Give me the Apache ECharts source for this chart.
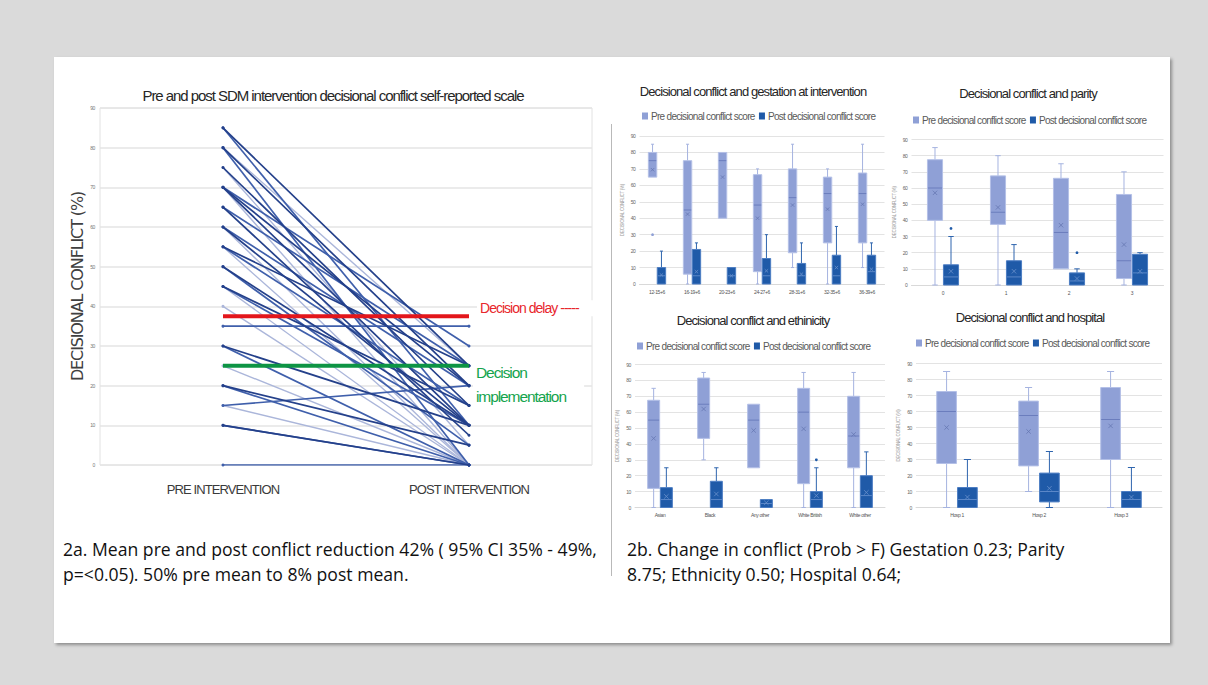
<!DOCTYPE html>
<html>
<head>
<meta charset="utf-8">
<title>Decisional conflict — pre / post SDM intervention</title>
<script src="https://cdn.jsdelivr.net/npm/echarts@6/dist/echarts.min.js"></script>
<style>
html, body { margin: 0; padding: 0; width: 1208px; height: 685px; background: #dadada; overflow: hidden; }
#card { position: absolute; left: 54px; top: 57px; width: 1116px; height: 586px; background: #fff; box-shadow: 2px 2px 3px rgba(0,0,0,0.35); }
#sep { position: absolute; left: 611px; top: 124px; width: 1px; height: 452px; background: #b9b9b9; }
#chart { position: absolute; left: 0; top: 0; width: 1208px; height: 685px; }
/* the source figure was squeezed sideways, so its labels read narrow */
#chart text { letter-spacing: -0.07em; }
.note { position: absolute; font-family: 'Open Sans', 'Noto Sans', sans-serif; font-size: 17.6px; line-height: 25px; color: #111; white-space: nowrap; }
</style>
</head>
<body>
<div id="card"></div>
<div id="sep"></div>
<div id="chart"></div>
<div class="note" style="left:63px; top:537px;">2a. Mean pre and post conflict reduction 42% ( 95% CI 35% - 49%,<br>p=&lt;0.05). 50% pre mean to 8% post mean.</div>
<div class="note" style="left:627px; top:537px;">2b. Change in conflict (Prob &gt; F) Gestation 0.23; Parity<br>8.75; Ethnicity 0.50; Hospital 0.64;</div>
<script>
// ---- 2a: paired pre / post scores (one line per woman) ----
const stageLabels = ['PRE INTERVENTION', 'POST INTERVENTION'];
const preScores  = [85, 85, 80, 80, 80, 75, 75, 70, 70, 70, 70, 65, 65, 60, 60, 60, 55, 55, 55, 50, 50, 45, 45, 45, 40, 35, 30, 30, 25, 20, 20, 15, 15, 10, 10, 0];
const postScores = [25, 10, 20, 25, 0, 15, 5, 30, 20, 10, 0, 25, 7.5, 20, 10, 0, 25, 15, 0, 10, 5, 15, 0, 10, 0, 35, 10, 0, 0, 0, 5, 20, 0, 0, 0, 0];
const lineShade  = [0, 1, 0, 2, 1, 0, 2, 1, 0, 0, 2, 1, 0, 1, 0, 2, 0, 1, 2, 0, 1, 0, 2, 1, 2, 1, 0, 1, 2, 1, 0, 1, 2, 0, 1, 1];
const delayThreshold = 37.5;
const implementThreshold = 25;

// ---- 2b: box stats per category, each [min, q1, median, q3, max, mean] ----
const gestationCats = ['12-15+6', '16-19+6', '20-23+6', '24-27+6', '28-31+6', '32-35+6', '36-39+6'];
const gestationPre = [[65, 65, 75, 80, 85, 69.5], [0, 6, 45, 75, 85, 42.5], [40, 40, 75, 80, 80, 65], [0, 7.5, 48, 66.5, 70, 40], [10, 19, 52.5, 70, 85, 48], [0, 25, 55, 65, 70, 45.5], [10, 25, 55, 67.5, 85, 48.5]];
const gestationPost = [[0, 0, 5, 10, 20, 5.5], [0, 0, 5, 21, 25, 7.5], [0, 0, 5, 10, 10, 5], [0, 0, 5, 15.5, 30, 8], [0, 0, 5, 12.5, 25, 6], [0, 0, 5, 17.5, 35, 10], [0, 0, 7.5, 17.5, 25, 9]];
const gestationPreOut = [[0, 30]];
const gestationPostOut = [];

const parityCats = ['0', '1', '2', '3'];
const parityPre = [[0, 40, 60, 77.5, 85, 57], [0, 37.5, 45, 67.5, 80, 48], [10, 10, 32.5, 66, 75, 37], [0, 4, 15, 56, 70, 25]];
const parityPost = [[0, 0, 5, 12.5, 30, 8.5], [0, 0, 5, 15, 25, 8.5], [0, 0, 2.5, 7.5, 10, 4], [0, 0, 7.5, 19, 20, 8.5]];
const parityPreOut = [];
const parityPostOut = [[0, 35], [2, 20]];

const ethnicityCats = ['Asian', 'Black', 'Any other', 'White British', 'White other'];
const ethnicityPre = [[0, 12, 55, 67.5, 75, 43.5], [30, 43.5, 65, 81.5, 85, 62], [25, 25, 55, 65, 65, 48.5], [0, 15, 60, 75, 85, 49.5], [0, 25, 45, 70, 85, 46]];
const ethnicityPost = [[0, 0, 5, 12.5, 25, 7], [0, 0, 5, 16.5, 25, 8.5], [0, 0, 2.5, 5, 5, 3], [0, 0, 5, 10, 25, 7.5], [0, 0, 7.5, 20, 35, 9.5]];
const ethnicityPreOut = [];
const ethnicityPostOut = [[3, 30]];

const hospitalCats = ['Hosp 1', 'Hosp 2', 'Hosp 3'];
const hospitalPre = [[0, 27.5, 60, 72.5, 85, 50], [10, 26, 57.5, 66.5, 75, 47.5], [0, 30, 55, 75, 85, 51]];
const hospitalPost = [[0, 0, 5, 12.5, 30, 6.5], [0, 3.5, 10, 21.5, 35, 12], [0, 0, 5, 10, 25, 6.5]];
const hospitalPreOut = [];
const hospitalPostOut = [];

const PRE_NAME = 'Pre decisional conflict score';
const POST_NAME = 'Post decisional conflict score';

// ---- styling / layout ----
const FONT = "'Liberation Sans', Arial, sans-serif";
const shadeColors = ['#24408a', '#3f5fab', '#abb6da'];
const boxStyle = {
  pre:  { fill: '#8fa0d6', stroke: '#b4c0e7', whisker: '#a5b3e0', median: '#6b7dbd', mean: '#6677b3' },
  post: { fill: '#1f5aa8', stroke: '#4c7dc3', whisker: '#2f65ae', median: '#5b87c8', mean: '#6a90cb' },
};

const panels = [
  { title: 'Decisional conflict and gestation at intervention', cats: gestationCats, pre: gestationPre, post: gestationPost, preOut: gestationPreOut, postOut: gestationPostOut,
    grid: { left: 639.5, top: 136, width: 245, height: 148 }, titleX: 753, titleY: 91, legendLeft: 642, legendTop: 111 },
  { title: 'Decisional conflict and parity', cats: parityCats, pre: parityPre, post: parityPost, preOut: parityPreOut, postOut: parityPostOut,
    grid: { left: 911.5, top: 139.5, width: 252, height: 145.5 }, titleX: 1028, titleY: 93, legendLeft: 913, legendTop: 115 },
  { title: 'Decisional conflict and ethinicity', cats: ethnicityCats, pre: ethnicityPre, post: ethnicityPost, preOut: ethnicityPreOut, postOut: ethnicityPostOut,
    grid: { left: 635, top: 364.5, width: 250, height: 143 }, titleX: 753, titleY: 320, legendLeft: 637, legendTop: 341 },
  { title: 'Decisional conflict and hospital', cats: hospitalCats, pre: hospitalPre, post: hospitalPost, preOut: hospitalPreOut, postOut: hospitalPostOut,
    grid: { left: 916, top: 363.5, width: 246, height: 144 }, titleX: 1030, titleY: 317, legendLeft: 916, legendTop: 338 },
];

const BOX_W = 0.24;      // box width, share of category band
const BOX_SHIFT = 0.127; // pre left / post right of the band centre

function boxRenderer(side, st) {
  return function (params, api) {
    const cat = api.value(0);
    const band = api.size([1, 0])[0];
    const w = band * BOX_W;
    const cx = api.coord([cat, 0])[0] + side * band * BOX_SHIFT;
    const y = function (v) { return api.coord([cat, v])[1]; };
    const lo = api.value(1), q1 = api.value(2), med = api.value(3), q3 = api.value(4), hi = api.value(5), mean = api.value(6);
    const cap = w * 0.18;
    const kids = [];
    const line = function (x1, y1, x2, y2, color, width) {
      kids.push({ type: 'line', shape: { x1: x1, y1: y1, x2: x2, y2: y2 }, style: { stroke: color, lineWidth: width || 1 } });
    };
    if (hi > q3) { line(cx, y(q3), cx, y(hi), st.whisker); line(cx - cap, y(hi), cx + cap, y(hi), st.whisker); }
    if (lo < q1) { line(cx, y(q1), cx, y(lo), st.whisker); line(cx - cap, y(lo), cx + cap, y(lo), st.whisker); }
    kids.push({ type: 'rect', shape: { x: cx - w / 2, y: y(q3), width: w, height: y(q1) - y(q3) }, style: { fill: st.fill, stroke: st.stroke, lineWidth: 1 } });
    if (med > q1 && med < q3) line(cx - w / 2 + 0.5, y(med), cx + w / 2 - 0.5, y(med), st.median);
    const m = Math.min(2.2, w * 0.2), my = y(mean);
    line(cx - m, my - m, cx + m, my + m, st.mean, 0.8);
    line(cx - m, my + m, cx + m, my - m, st.mean, 0.8);
    return { type: 'group', children: kids };
  };
}

function outlierRenderer(side, color) {
  return function (params, api) {
    const cat = api.value(0);
    const band = api.size([1, 0])[0];
    const p = api.coord([cat, api.value(1)]);
    return { type: 'circle', shape: { cx: p[0] + side * band * BOX_SHIFT, cy: p[1], r: 1.4 }, style: { fill: color } };
  };
}

const grids = [{ left: 100, top: 108, width: 492, height: 357, show: true, borderColor: '#e2e2e2', borderWidth: 1, outerBoundsMode: 'none' }];
const xAxes = [{
  gridIndex: 0, type: 'category', data: stageLabels, boundaryGap: true,
  axisLine: { show: false }, axisTick: { show: false },
  axisLabel: { margin: 18, fontFamily: FONT, fontSize: 13, color: '#3a3a3a' },
}];
const yAxes = [{
  gridIndex: 0, type: 'value', min: 0, max: 90, interval: 10,
  name: 'DECISIONAL CONFLICT (%)', nameLocation: 'middle', nameGap: 11, nameRotate: 90,
  nameTextStyle: { fontFamily: 'DejaVu Sans', fontSize: 16, color: '#404040' },
  axisLine: { show: false }, axisTick: { show: false },
  axisLabel: { margin: 5, fontSize: 5, color: '#777' },
  splitLine: { lineStyle: { color: '#e4e4e4', width: 1.5 } },
}];
const series = [];
const titles = [];

// left chart: paired lines, lighter ones first so dark ones sit on top
const order = preScores.map(function (v, i) { return i; }).sort(function (a, b) { return lineShade[b] - lineShade[a]; });
order.forEach(function (i) {
  const c = shadeColors[lineShade[i]];
  series.push({
    type: 'line', xAxisIndex: 0, yAxisIndex: 0, silent: true,
    data: [preScores[i], postScores[i]],
    symbol: 'circle', symbolSize: 3, showSymbol: true,
    lineStyle: { color: c, width: lineShade[i] === 2 ? 1.4 : 1.7 }, itemStyle: { color: c },
    z: 2 + (2 - lineShade[i]),
  });
});
series.push({
  type: 'line', xAxisIndex: 0, yAxisIndex: 0, silent: true, symbol: 'none', z: 6,
  data: [delayThreshold, delayThreshold],
  lineStyle: { color: '#e3161b', width: 4 },
  endLabel: {
    show: true, distance: 8, offset: [0, -8], backgroundColor: '#fff', padding: [1, 3],
    formatter: 'Decision delay -----', fontFamily: FONT, fontSize: 14, color: '#e8262c',
  },
});
series.push({
  type: 'line', xAxisIndex: 0, yAxisIndex: 0, silent: true, symbol: 'none', z: 6,
  data: [implementThreshold, implementThreshold],
  lineStyle: { color: '#0d9444', width: 4 },
  endLabel: {
    show: true, distance: 4, offset: [0, 19], backgroundColor: '#fff', padding: [1, 3],
    formatter: 'Decision\nimplementation', fontFamily: FONT, fontSize: 15.5, lineHeight: 24, color: '#14a44d',
  },
});
titles.push({ type: 'text', x: 333, y: 95, style: { text: 'Pre and post SDM intervention decisional conflict self-reported scale', font: '15px ' + FONT, fill: '#262626', textAlign: 'center', textVerticalAlign: 'middle' } });

// right panels: box plots
const legends = [];
panels.forEach(function (p, k) {
  const gi = k + 1;
  grids.push(Object.assign({ outerBoundsMode: 'none' }, p.grid));
  xAxes.push({
    gridIndex: gi, type: 'category', data: p.cats, boundaryGap: true,
    axisLine: { show: true, lineStyle: { color: '#d9d9d9' } }, axisTick: { show: false },
    axisLabel: { margin: 5, fontSize: 5, color: '#555', interval: 0 },
  });
  yAxes.push({
    gridIndex: gi, type: 'value', min: 0, max: 90, interval: 10,
    name: 'DECISIONAL CONFLICT (%)', nameLocation: 'middle', nameGap: 15, nameRotate: 90,
    nameTextStyle: { fontSize: 4.5, color: '#9a9a9a' },
    axisLine: { show: false }, axisTick: { show: false },
    axisLabel: { margin: 4, fontSize: 5, color: '#666' },
    splitLine: { lineStyle: { color: '#e3e3e3', width: 1 } },
  });
  const sides = [[-1, PRE_NAME, p.pre, p.preOut, boxStyle.pre], [1, POST_NAME, p.post, p.postOut, boxStyle.post]];
  sides.forEach(function (s) {
    series.push({
      type: 'custom', name: s[1], xAxisIndex: gi, yAxisIndex: gi, silent: true,
      itemStyle: { color: s[4].fill },
      encode: { x: 0, y: [1, 2, 3, 4, 5] },
      data: s[2].map(function (b, i) { return [i].concat(b); }),
      renderItem: boxRenderer(s[0], s[4]), z: 3,
    });
    series.push({
      type: 'custom', name: s[1] + ' outliers', xAxisIndex: gi, yAxisIndex: gi, silent: true,
      encode: { x: 0, y: 1 },
      data: s[3], renderItem: outlierRenderer(s[0], s[4].fill), z: 4,
    });
  });
  // negative gap: the letter-spacing squeeze makes text shorter than ECharts measures it
  legends.push({
    left: p.legendLeft, top: p.legendTop, orient: 'horizontal', data: [PRE_NAME, POST_NAME],
    icon: 'rect', itemWidth: 6, itemHeight: 7, itemGap: -16, padding: 0, selectedMode: false,
    textStyle: { fontFamily: FONT, fontSize: 10, color: '#595959', padding: [0, 0, 0, -2] },
  });
  titles.push({ type: 'text', x: p.titleX, y: p.titleY, style: { text: p.title, font: '13px ' + FONT, fill: '#262626', textAlign: 'center', textVerticalAlign: 'middle' } });
});

const chart = echarts.init(document.getElementById('chart'), null, { renderer: 'svg' });
chart.setOption({
  animation: false,
  backgroundColor: 'transparent',
  textStyle: { fontFamily: FONT },
  grid: grids,
  xAxis: xAxes,
  yAxis: yAxes,
  legend: legends,
  graphic: titles,
  series: series,
});
</script>
</body>
</html>
